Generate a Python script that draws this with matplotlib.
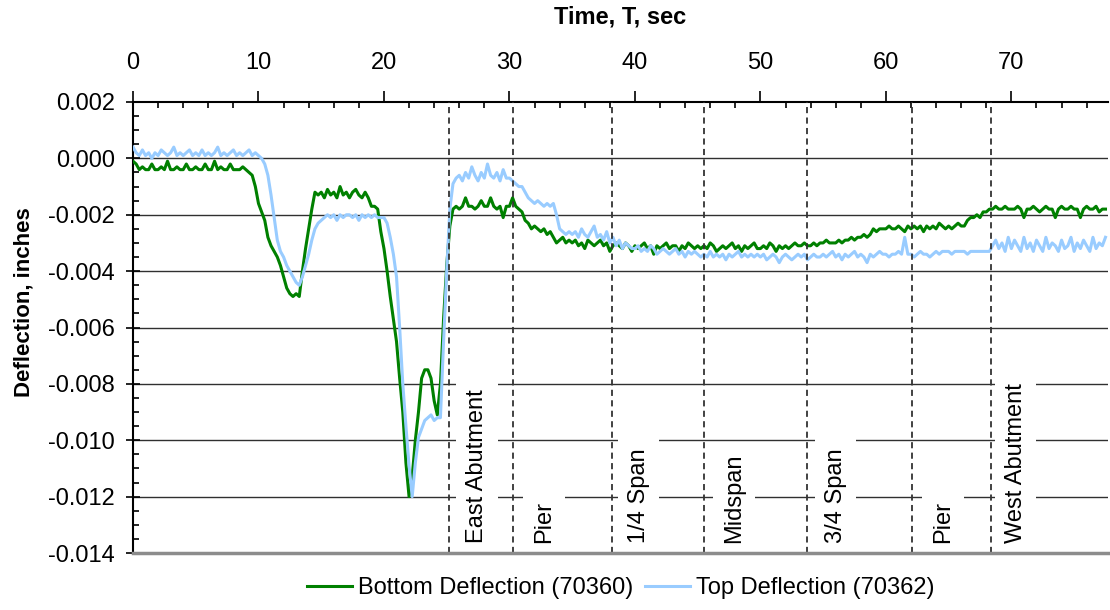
import numpy as np
import matplotlib
matplotlib.use("Agg")
import matplotlib.pyplot as plt
from matplotlib.ticker import MultipleLocator, FormatStrFormatter

plt.rcParams['font.family'] = ['Liberation Sans', 'DejaVu Sans']
plt.rcParams['axes.unicode_minus'] = False

# ---------------- data ----------------
sample_step = 0.25  # seconds between samples
# deflections in units of 0.0001 inch, one row = 5 s
bottom_defl_e4 = [
    -1, -2, -4, -3, -4, -4, -2, -4, -4, -3, -4, -1, -4, -4, -3, -4, -4, -2, -4, -4,
    -3, -4, -4, -2, -4, -4, -1, -4, -3, -4, -4, -2, -4, -4, -4, -3, -4, -5, -6, -10,
    -16, -19, -22, -28, -31, -33, -35, -38, -42, -46, -48, -49, -48, -49, -40, -32, -25, -18, -12, -13,
    -12, -14, -11, -13, -12, -14, -10, -13, -12, -14, -12, -11, -13, -14, -12, -14, -17, -17, -18, -26,
    -32, -40, -49, -57, -65, -78, -90, -108, -120, -113, -100, -90, -78, -75, -75, -78, -86, -91, -80, -57,
    -38, -24, -18, -17, -18, -17, -14, -17, -17, -18, -17, -15, -17, -17, -14, -17, -18, -17, -21, -17,
    -17, -14, -17, -18, -19, -22, -23, -25, -24, -25, -26, -25, -27, -26, -28, -30, -29, -28, -30, -29,
    -30, -29, -31, -30, -32, -29, -30, -31, -30, -29, -31, -30, -33, -31, -30, -31, -32, -30, -31, -33,
    -31, -32, -31, -30, -32, -31, -34, -31, -32, -31, -30, -32, -31, -31, -33, -31, -32, -30, -31, -32,
    -31, -32, -31, -32, -30, -31, -33, -32, -31, -32, -31, -30, -32, -31, -33, -31, -32, -31, -30, -32,
    -32, -31, -32, -30, -31, -33, -31, -32, -31, -32, -31, -30, -31, -31, -30, -31, -31, -30, -31, -30,
    -30, -29, -30, -30, -30, -29, -30, -29, -29, -28, -29, -28, -28, -27, -28, -27, -25, -26, -25, -25,
    -25, -24, -25, -25, -24, -25, -26, -24, -25, -24, -25, -24, -26, -24, -25, -24, -25, -23, -24, -25,
    -24, -25, -24, -23, -24, -24, -22, -21, -21, -20, -21, -19, -19, -18, -18, -17, -18, -18, -17, -18,
    -18, -18, -17, -18, -21, -18, -18, -17, -18, -19, -18, -17, -18, -18, -21, -18, -17, -18, -18, -17,
    -18, -18, -21, -18, -17, -18, -18, -17, -19, -18, -18,
]
top_defl_e4 = [
    4, 2, 1, 3, 1, 2, 0, 2, 1, 3, 2, 1, 2, 4, 1, 2, 1, 2, 3, 1,
    2, 1, 3, 1, 2, 1, 2, 4, 1, 2, 1, 2, 3, 1, 2, 1, 2, 3, 1, 2,
    1, 0, -2, -6, -13, -21, -29, -33, -35, -38, -40, -42, -44, -45, -42, -38, -34, -29, -25, -23,
    -22, -21, -20, -21, -20, -22, -20, -21, -20, -20, -21, -20, -22, -20, -21, -20, -21, -20, -21, -21,
    -21, -23, -28, -34, -42, -60, -80, -95, -109, -120, -108, -99, -96, -93, -92, -91, -93, -92, -92, -65,
    -40, -18, -9, -7, -6, -8, -5, -7, -3, -6, -8, -5, -7, -2, -6, -7, -5, -8, -4, -7,
    -7, -8, -9, -10, -10, -12, -14, -15, -16, -15, -16, -17, -16, -17, -16, -20, -25, -26, -27, -26,
    -27, -26, -28, -25, -27, -28, -26, -24, -28, -27, -29, -26, -30, -28, -31, -29, -32, -30, -31, -32,
    -32, -31, -33, -32, -33, -31, -32, -34, -33, -32, -33, -34, -33, -32, -34, -33, -35, -33, -34, -33,
    -34, -35, -34, -35, -33, -35, -34, -35, -34, -36, -34, -35, -34, -33, -35, -34, -35, -34, -35, -34,
    -35, -34, -36, -35, -34, -35, -37, -35, -34, -35, -36, -35, -34, -35, -34, -36, -35, -34, -35, -35,
    -34, -35, -34, -33, -35, -34, -36, -34, -35, -34, -33, -35, -34, -35, -37, -34, -35, -34, -33, -34,
    -34, -35, -34, -34, -33, -34, -28, -34, -34, -35, -34, -33, -34, -34, -35, -34, -33, -34, -33, -33,
    -33, -34, -33, -33, -33, -33, -34, -33, -33, -33, -33, -33, -33, -33, -31, -29, -32, -30, -33, -28,
    -32, -29, -31, -33, -28, -32, -30, -33, -29, -31, -33, -28, -32, -30, -31, -33, -29, -32, -31, -28,
    -33, -30, -32, -29, -31, -33, -28, -32, -30, -31, -28,
]
series_names = ["Bottom Deflection (70360)", "Top Deflection (70362)"]

location_times = [25.2, 30.25, 38.2, 45.5, 53.75, 62.05, 68.35]
location_labels = ["East Abutment", "Pier", "1/4 Span", "Midspan", "3/4 Span", "Pier", "West Abutment"]
label_times = [27.4, 32.75, 40.3, 47.9, 56.0, 64.55, 70.35]

x_ticks = [0, 10, 20, 30, 40, 50, 60, 70]
y_ticks = [0.002, 0.000, -0.002, -0.004, -0.006, -0.008, -0.010, -0.012, -0.014]

# ---------------- figure ----------------
bottom = np.array(bottom_defl_e4) * 1e-4
top = np.array(top_defl_e4) * 1e-4
t = np.arange(len(bottom)) * sample_step

W, H = 1110, 610
fig = plt.figure(figsize=(W / 100, H / 100), dpi=100)
L, R, T, B = 133, 1108, 102, 553
ax = fig.add_axes([L / W, 1 - B / H, (R - L) / W, (B - T) / H])

for yv in y_ticks[1:-1]:
    ax.axhline(yv, color='#303030', lw=1.0, zorder=1)

l1, = ax.plot(t, bottom, color='#008000', lw=2.2, zorder=3, label=series_names[0])
l2, = ax.plot(t, top, color='#99CCFF', lw=2.2, zorder=3.1, label=series_names[1])

for xt in location_times:
    ax.axvline(xt, color='#333333', lw=1.3, linestyle=(0, (3.4, 2.4)), zorder=4)

for xt, lab in zip(label_times, location_labels):
    ax.text(xt, -0.01365, lab, rotation=90, ha='center', va='bottom', fontsize=17,
            zorder=5, bbox=dict(facecolor='white', edgecolor='none', pad=7))

ax.set_xlim(0, 77.7)
ax.set_ylim(-0.014, 0.002)
ax.set_xticks(x_ticks)
ax.set_yticks(y_ticks)
ax.xaxis.set_minor_locator(MultipleLocator(2))
ax.yaxis.set_minor_locator(MultipleLocator(0.0005))
ax.yaxis.set_major_formatter(FormatStrFormatter('%.3f'))
ax.xaxis.tick_top()
ax.tick_params(axis='x', which='major', direction='out', length=8, width=1.2, pad=12, labelsize=17)
ax.tick_params(axis='x', which='minor', direction='in', length=4, width=1.2)
ax.tick_params(axis='y', which='major', direction='inout', length=10, width=1.2, pad=8, labelsize=17)
ax.tick_params(axis='y', which='minor', direction='in', length=4, width=1.2)

ax.spines['right'].set_visible(False)
ax.spines['top'].set_linewidth(1.5)
ax.spines['left'].set_linewidth(1.5)
ax.spines['bottom'].set_color('#8c8c8c')
ax.spines['bottom'].set_linewidth(2.5)
ax.spines['bottom'].set_zorder(6)

fig.text((L + R) / 2 / W, 1 - 17 / H, "Time, T, sec", ha='center', va='center',
         fontsize=17, fontweight='bold')
fig.text(24 / W, 1 - 302 / H, "Deflection, inches", ha='center', va='center',
         rotation=90, fontsize=16, fontweight='bold')

fig.legend(handles=[l1, l2], loc='center', bbox_to_anchor=((L + R) / 2 / W, 1 - 588 / H),
           ncol=2, frameon=False, fontsize=17, handlelength=1.9, handletextpad=0.25,
           columnspacing=0.5)

fig.savefig("out.png", dpi=100)
